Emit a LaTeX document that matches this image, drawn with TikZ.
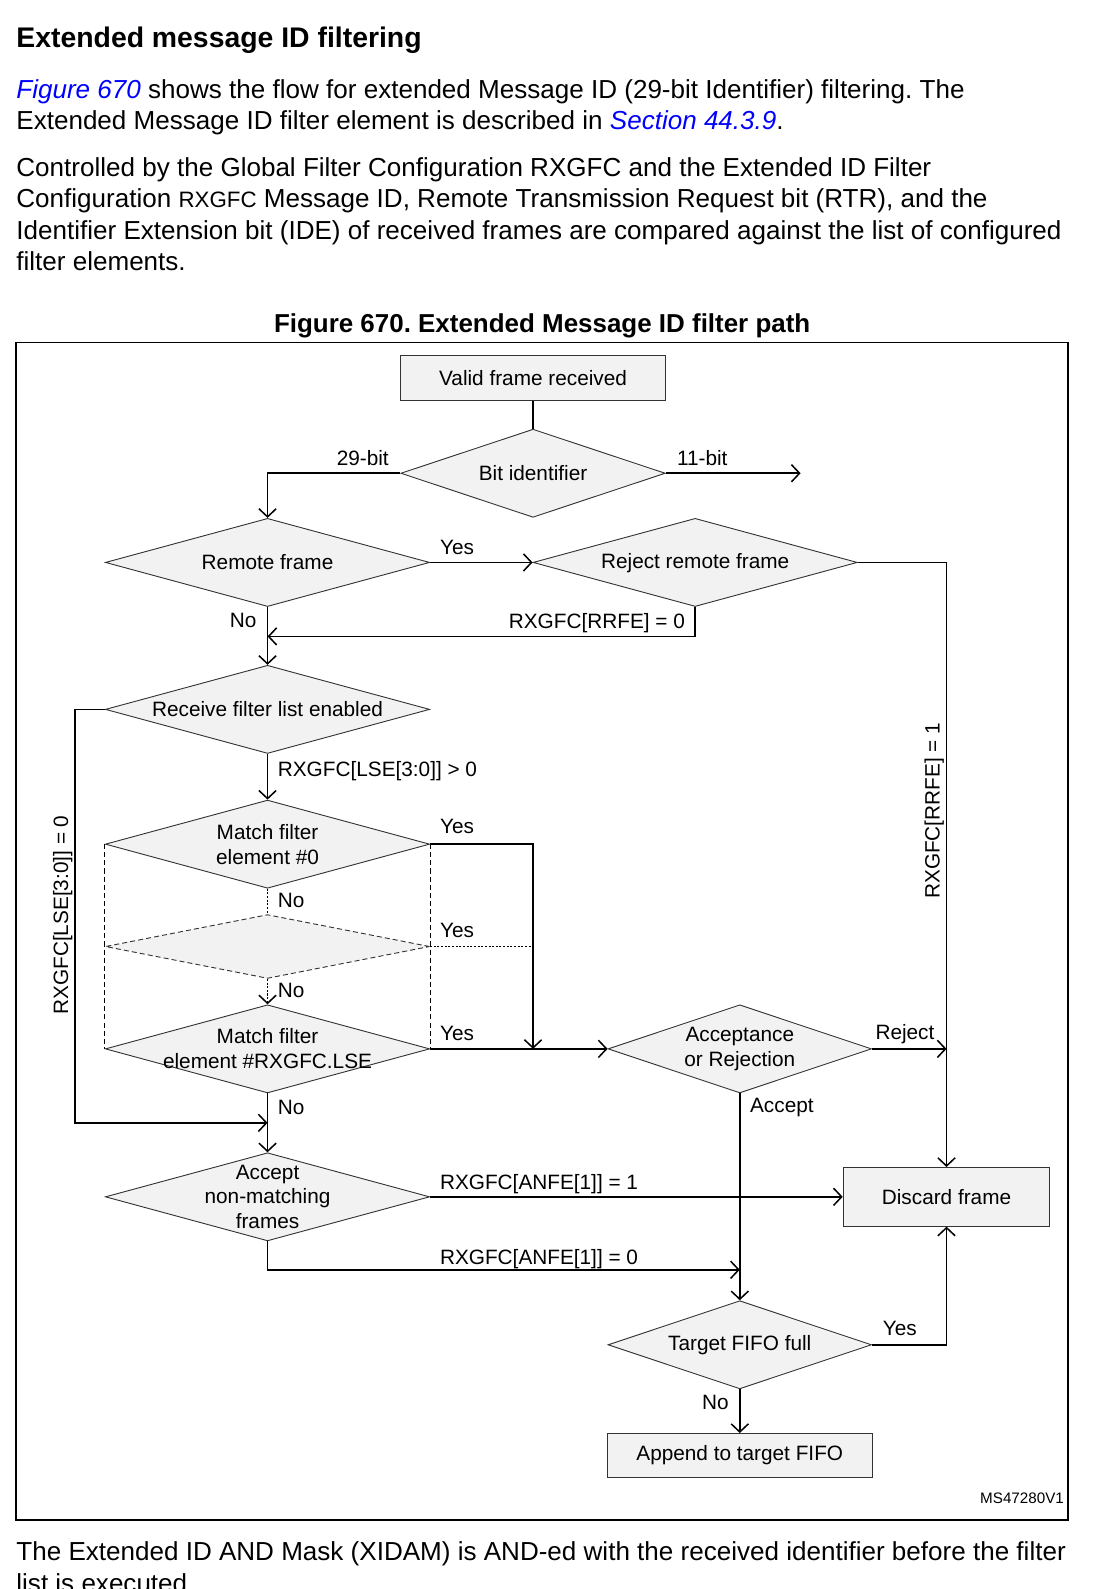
\documentclass[tikz,border=0pt]{standalone}
\usepackage{fontspec}
\setmainfont{Liberation Sans}
\usetikzlibrary{arrows.meta,positioning,shapes.geometric}
\frenchspacing

\definecolor{boxgray}{HTML}{F2F2F2}
\definecolor{edgegray}{HTML}{333333}
\definecolor{linkblue}{HTML}{0000FF}

\newcommand{\bodyfont}{\fontsize{25.7}{31}\selectfont}
\newcommand{\diagfont}{\fontsize{20.5}{24.5}\selectfont}

\begin{document}
\begin{tikzpicture}[x=1pt, y=-1pt, every node/.style={font=\diagfont, inner sep=0pt}]
\tikzset{dec/.style={diamond, draw=edgegray, fill=boxgray, line width=0.9pt, aspect=3.7, minimum width=320pt, minimum height=87pt}}
\tikzset{stepbox/.style={draw=edgegray, fill=boxgray, line width=0.9pt}}
\tikzset{dtext/.style={align=center}}
\tikzset{flow/.style={-{Straight Barb[length=8pt,width=17pt]}, line width=1.5pt}}
\tikzset{dotline/.style={line width=1.2pt, dash pattern=on 2pt off 1.6pt}}
\tikzset{dotflow/.style={flow, dash pattern=on 2pt off 1.6pt}}
\tikzset{dashline/.style={line width=0.9pt, dash pattern=on 5pt off 3pt}}
\tikzset{para/.style={anchor=base west, font=\bodyfont}}
\useasboundingbox (0,0) rectangle (1080,1568);

\node[para] (head) at (16,47) {\fontsize{28}{32}\selectfont\bfseries Extended message ID filtering};
\node[para] (p1a) at (16,97) {\textcolor{linkblue}{\itshape Figure 670} shows the flow for extended Message ID (29-bit Identifier) filtering. The};
\node[para] (p1b) at (16,128) {Extended Message ID filter element is described in \textcolor{linkblue}{\itshape Section 44.3.9}.};
\node[para] (p2a) at (16,174) {Controlled by the Global Filter Configuration RXGFC and the Extended ID Filter};
\node[para] (p2b) at (16,205) {Configuration {\fontsize{22}{26}\selectfont RXGFC} Message ID, Remote Transmission Request bit (RTR), and the};
\node[para] (p2c) at (16,236) {Identifier Extension bit (IDE) of received frames are compared against the list of configured};
\node[para] (p2d) at (16,267) {filter elements.};
\node[para, anchor=base] (cap) at (535,328) {\fontsize{25.6}{30}\selectfont\bfseries Figure 670. Extended Message ID filter path};
\node[para] (b1) at (16,1540) {The Extended ID AND Mask (XIDAM) is AND-ed with the received identifier before the filter};
\node[para] (b2) at (16,1571) {list is executed.};

\draw[line width=1.9pt] (16,338) rectangle (1054,1500);

\node[stepbox, minimum width=262pt, minimum height=44pt] (vfr) at (526,373) {Valid frame received};
\node[dec, minimum width=261pt] (bit) at (526,467) {};
\node (bit-t) at (bit) {Bit identifier};
\node[dec] (rmt) at (264,555) {};
\node (rmt-t) at (rmt) {Remote frame};
\node[dec] (rej) at (686,555) {};
\node[text height=15pt, text depth=3pt] (rej-t) at (rej) {Reject remote frame};
\node[dec] (rfl) at (264,700) {};
\node (rfl-t) at (rfl) {Receive filter list enabled};
\node[dec] (m0) at (264,833) {};
\node[dtext] (m0-t) at (m0) {Match filter\\element \#0};
\node[dec, dashline, minimum height=63pt] (mx) at (264,934) {};
\node[dec] (mlse) at (264,1035) {};
\node[dtext] (mlse-t) at (mlse) {Match filter\\element \#RXGFC.LSE};
\node[dec, minimum width=260pt] (acc) at (730,1035) {};
\node[dtext] (acc-t) at (acc) {Acceptance\\or Rejection};
\node[dec] (anm) at (264,1181) {};
\node[dtext] (anm-t) at (anm) {Accept\\non-matching\\frames};
\node[stepbox, minimum width=204pt, minimum height=58pt] (dis) at (934,1181) {Discard frame};
\node[dec, minimum width=260pt] (tff) at (730,1327) {};
\node (tff-t) at (tff) {Target FIFO full};
\node[stepbox, minimum width=261pt, minimum height=43pt] (app) at (730,1436) {Append to target FIFO};

\coordinate (eleven) at (790,467);
\coordinate (rrfe0) at (264,628);
\coordinate (lsebend) at (74,1108);
\coordinate (lse0) at (264,1108);
\coordinate (yesjoin) at (526,1035);
\coordinate (yesmid) at (526,934);
\coordinate (rejjoin) at (934,1035);
\coordinate (anfe0) at (730,1253);

\draw[line width=1.5pt] (vfr) -- (bit);
\draw[flow] (bit.west) -| (rmt.north);
\draw[flow] (bit.east) -- (eleven);
\draw[flow] (rmt.east) -- (rej.west);
\draw[flow] (rej.south) |- (rrfe0);
\draw[flow] (rmt.south) -- (rfl.north);
\draw[flow] (rej.east) -| (dis.north);
\draw[flow] (rfl.west) -| (lsebend) -- (lse0);
\draw[flow] (rfl.south) -- (m0.north);
\draw[flow] (m0.east) -| (yesjoin);
\draw[dotline] (m0.south) -- (mx.north);
\draw[dotflow] (mx.south) -- (mlse.north);
\draw[dotline] (mx.east) -- (yesmid);
\draw[dashline] (m0.west) -- (mlse.west);
\draw[dashline] (m0.east) -- (mlse.east);
\draw[flow] (mlse.east) -- (acc.west);
\draw[flow] (mlse.south) -- (anm.north);
\draw[flow] (acc.east) -- (rejjoin);
\draw[flow] (acc.south) -- (tff.north);
\draw[flow] (anm.east) -- (dis.west);
\draw[flow] (anm.south) |- (anfe0);
\draw[flow] (tff.east) -| (dis.south);
\draw[flow] (tff.south) -- (app.north);

\node (l29) at (358,452) {29-bit};
\node (l11) at (693,452) {11-bit};
\node (lyes1) at (451,540) {Yes};
\node (lrr0) at (589,615) {RXGFC[RRFE] = 0};
\node (lno1) at (240,612) {No};
\node[rotate=90] (lrr1) at (922,800) {RXGFC[RRFE] = 1};
\node[rotate=90] (llse0) at (62,903) {RXGFC[LSE[3:0]] = 0};
\node[anchor=west] (llse1) at (274,761) {RXGFC[LSE[3:0]] > 0};
\node (lyes2) at (451,816) {Yes};
\node[anchor=west] (lno2) at (274,889) {No};
\node (lyes3) at (451,918) {Yes};
\node[anchor=west] (lno3) at (274,977) {No};
\node (lyes4) at (451,1020) {Yes};
\node[anchor=west] (lno4) at (274,1093) {No};
\node (lrej) at (893,1020) {Reject};
\node[anchor=west] (lacc) at (740,1093) {Accept};
\node[anchor=west] (lanf1) at (434,1168) {RXGFC[ANFE[1]] = 1};
\node[anchor=west] (lanf0) at (434,1242) {RXGFC[ANFE[1]] = 0};
\node (lyes5) at (888,1311) {Yes};
\node (lno5) at (706,1384) {No};
\node[anchor=east, font=\fontsize{15}{18}\selectfont] (msid) at (1050,1478) {MS47280V1};
\end{tikzpicture}
\end{document}
